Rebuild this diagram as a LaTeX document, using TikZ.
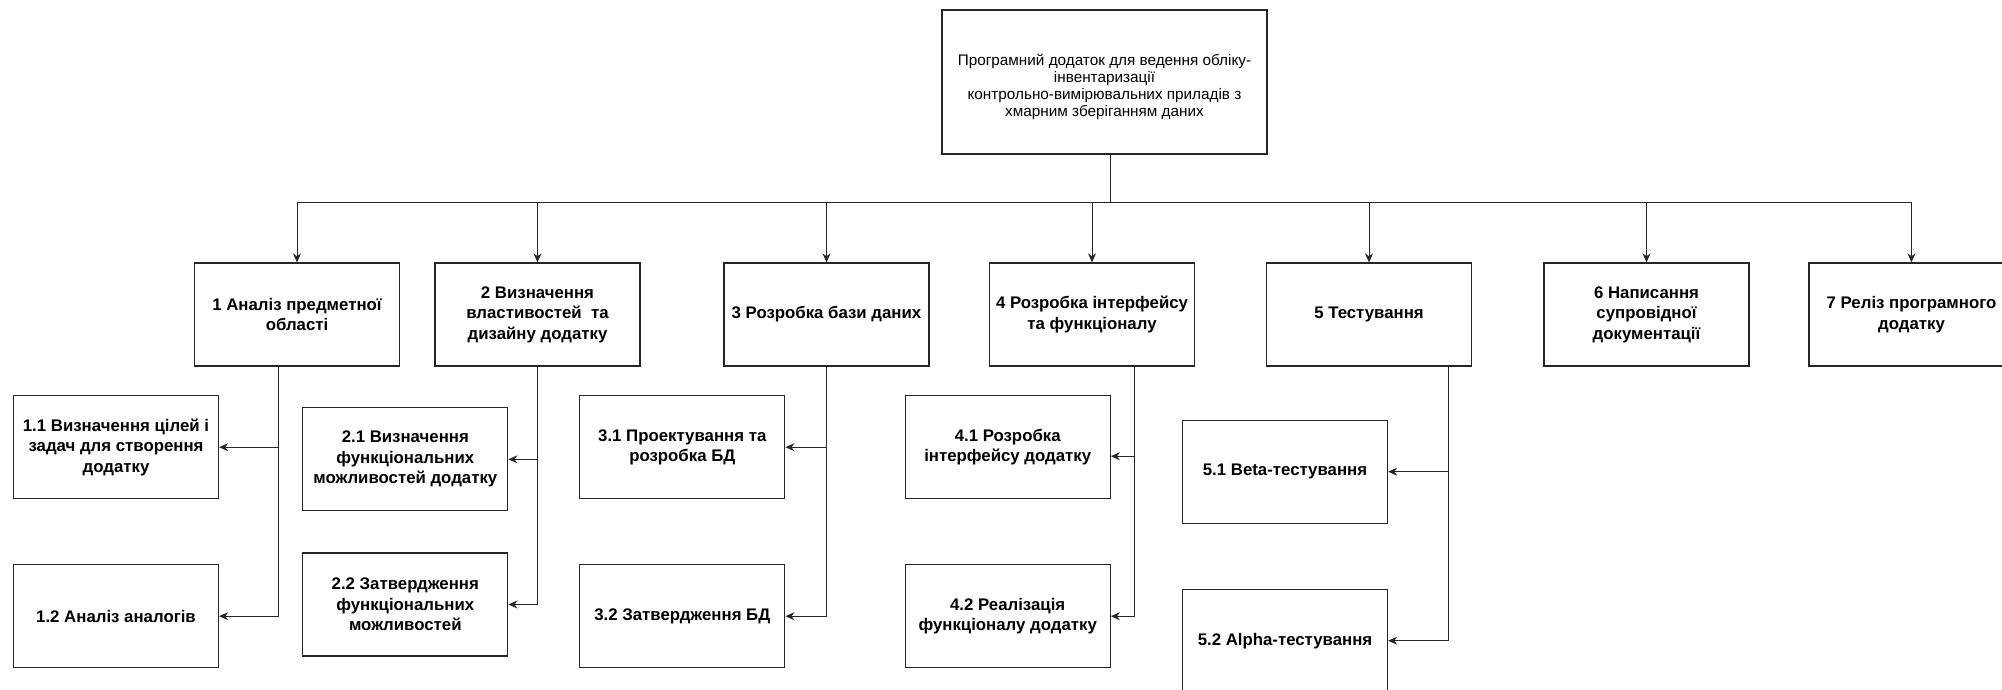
\documentclass[tikz,border=0pt]{standalone}
\usepackage{fontspec}
\setmainfont{Liberation Sans}
\usetikzlibrary{arrows.meta}
\begin{document}
\begin{tikzpicture}[x=1pt,y=-1pt,
  box/.style={draw=black!85, line width=1.3pt, rectangle, inner sep=0pt,
    minimum width=205pt, minimum height=103pt, align=center,
    font=\fontsize{16.8}{20.5}\selectfont\bfseries},
  topbox/.style={draw=black!85, line width=1.3pt, rectangle, inner sep=0pt,
    minimum width=325pt, minimum height=144pt, align=center,
    font=\fontsize{15.3}{16.3}\selectfont},
  arr/.style={draw=black!85, line width=1pt, -{Stealth[length=9pt,width=8pt]}}]
\useasboundingbox (0,0) rectangle (2002,689);
% root
\node[topbox] (top) at (1104.5,82) {\rule{0pt}{21pt}Програмний додаток для ведення обліку-\\інвентаризації\\[1.5pt]контрольно-вимірювальних приладів з\\хмарним зберіганням даних};
\coordinate (bus) at (1110,202);
% level 1
\node[box] (b1) at (297,314.5) {1 Аналіз предметної\\області};
\node[box] (b2) at (537.5,314.5) {2 Визначення\\властивостей\ \ та\\дизайну додатку};
\node[box] (b3) at (826.5,314.5) {3 Розробка бази даних};
\node[box] (b4) at (1092,314.5) {4 Розробка інтерфейсу\\та функціоналу};
\node[box] (b5) at (1369,314.5) {5 Тестування};
\node[box] (b6) at (1646.5,314.5) {6 Написання\\супровідної\\документації};
\node[box] (b7) at (1911.5,314.5) {7 Реліз програмного\\додатку};
% level 2
\node[box] (c11) at (116,447.2) {1.1 Визначення цілей і\\задач для створення\\додатку};
\node[box] (c12) at (116,616.2) {1.2 Аналіз аналогів};
\node[box] (c21) at (405.3,459.3) {2.1 Визначення\\функціональних\\можливостей додатку};
\node[box] (c22) at (405.3,604.5) {2.2 Затвердження\\функціональних\\можливостей};
\node[box] (c31) at (682.3,447.2) {3.1 Проектування та\\розробка БД};
\node[box] (c32) at (682.3,616.2) {3.2 Затвердження БД};
\node[box] (c41) at (1007.7,447.2) {4.1 Розробка\\інтерфейсу додатку};
\node[box] (c42) at (1007.7,616.2) {4.2 Реалізація\\функціоналу додатку};
\node[box] (c51) at (1285,471.7) {5.1 Beta-тестування};
\node[box] (c52) at (1285,640.7) {5.2 Alpha-тестування};
% connectors root -> level 1
\foreach \k in {b1,b2,b3,b4,b5,b6,b7}{
  \draw[arr] ([xshift=5.5pt]top.south) -- (bus) -| (\k.north);
}
% connectors level 1 -> level 2
\draw[arr] ([xshift=-18.3pt]b1.south) |- (c11.east);
\draw[arr] ([xshift=-18.3pt]b1.south) |- (c12.east);
\draw[arr] (b2.south) |- (c21.east);
\draw[arr] (b2.south) |- (c22.east);
\draw[arr] (b3.south) |- (c31.east);
\draw[arr] (b3.south) |- (c32.east);
\draw[arr] ([xshift=42.5pt]b4.south) |- ([yshift=-9pt]c41.east);
\draw[arr] ([xshift=42.5pt]b4.south) |- (c42.east);
\draw[arr] ([xshift=79.4pt]b5.south) |- (c51.east);
\draw[arr] ([xshift=79.4pt]b5.south) |- (c52.east);
\end{tikzpicture}
\end{document}
